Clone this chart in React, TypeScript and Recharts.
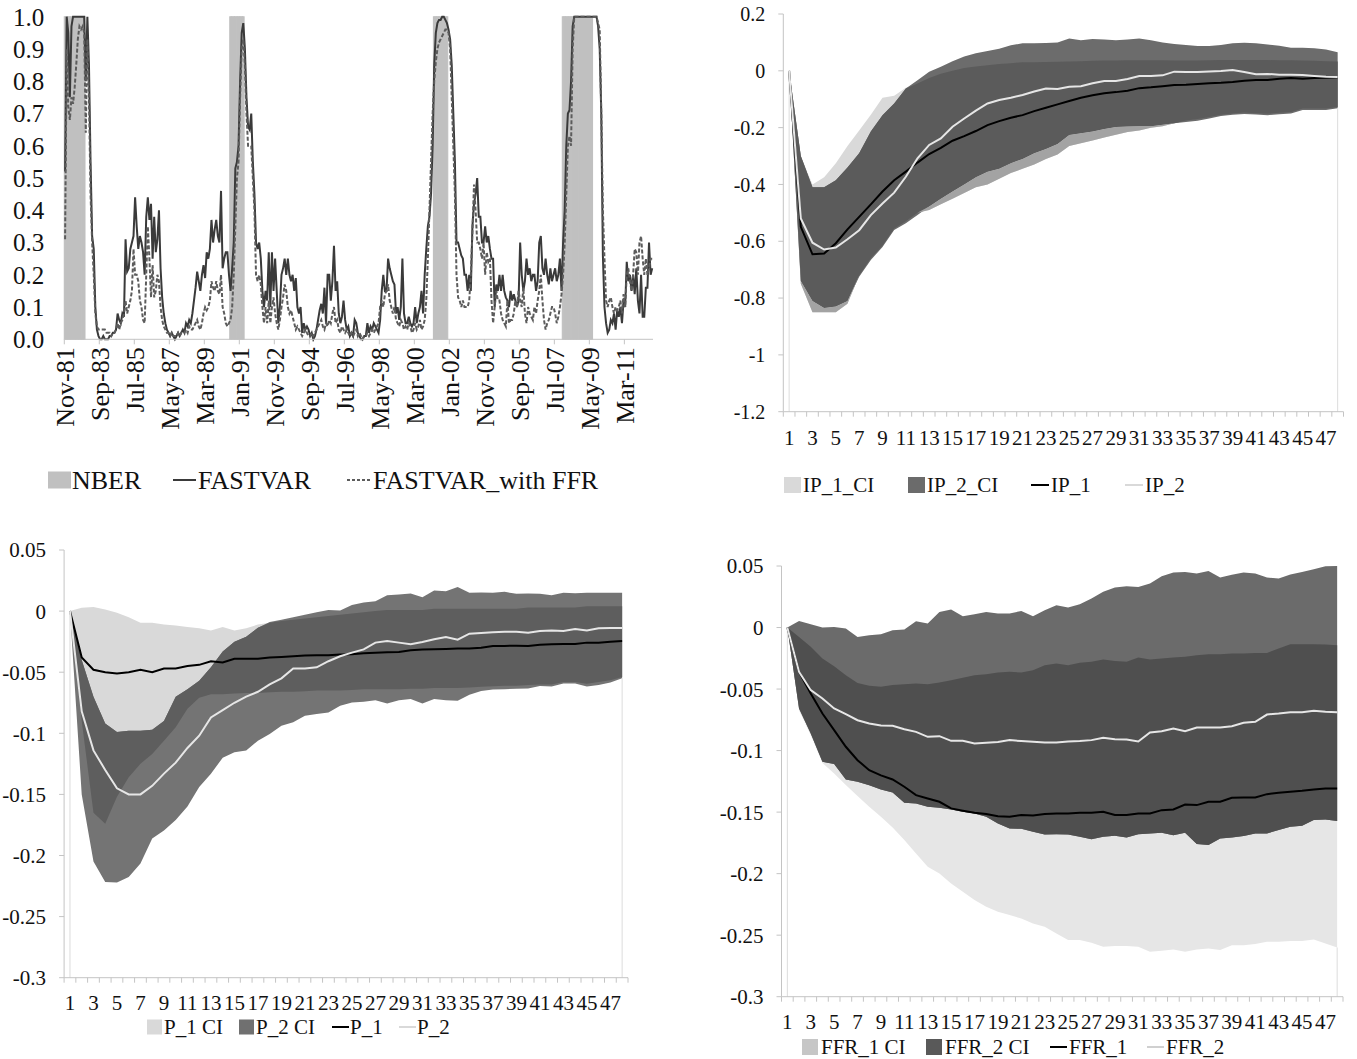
import React from 'react';
import { ComposedChart, Bar, Line, Area, XAxis, YAxis, ReferenceLine } from 'recharts';

const FONT = '"Liberation Serif", "Times New Roman", Times, serif';
const TEXT = '#111111';
const AXIS = '#c4c4c4';

// ---------------- Panel 1: recession probabilities (monthly, Nov-81 .. Aug-12) ----------------
const MONTH_NAMES = ['Jan', 'Feb', 'Mar', 'Apr', 'May', 'Jun', 'Jul', 'Aug', 'Sep', 'Oct', 'Nov', 'Dec'];
const START_YEAR = 1981;
const START_MONTH = 10; // Nov

const FASTVAR = [
  0.52, 1.0, 0.95, 0.75, 0.97, 1.0, 1.0, 1.0, 1.0, 1.0,
  1.0, 1.0, 1.0, 0.8, 1.0, 0.85, 0.55, 0.32, 0.28, 0.1,
  0.03, 0.01, 0.0, 0.0, 0.01, 0.0, 0.0, 0.0, 0.01, 0.01,
  0.02, 0.02, 0.03, 0.08, 0.06, 0.05, 0.08, 0.07, 0.31, 0.21,
  0.22, 0.28, 0.3, 0.32, 0.44, 0.35, 0.28, 0.32, 0.3, 0.27,
  0.2, 0.38, 0.44, 0.37, 0.42, 0.25, 0.38, 0.27, 0.31, 0.4,
  0.22, 0.13, 0.08, 0.05, 0.03, 0.02, 0.01, 0.02, 0.01, 0.0,
  0.01, 0.02, 0.01, 0.02, 0.03, 0.02, 0.05, 0.04, 0.06, 0.05,
  0.08, 0.12, 0.16, 0.21, 0.18, 0.15, 0.2, 0.23, 0.19, 0.27,
  0.25, 0.28, 0.37, 0.3, 0.34, 0.37, 0.32, 0.3, 0.46, 0.22,
  0.25, 0.27, 0.27, 0.2, 0.15, 0.22, 0.3, 0.53, 0.55, 0.6,
  0.8, 0.95, 0.98, 0.9, 0.75, 0.66, 0.65, 0.7, 0.55, 0.45,
  0.3, 0.28, 0.3, 0.25, 0.15, 0.1, 0.15, 0.12, 0.27, 0.1,
  0.27, 0.15, 0.25, 0.15, 0.05, 0.1, 0.2, 0.22, 0.25, 0.2,
  0.25, 0.2, 0.18, 0.2, 0.15, 0.19, 0.1, 0.08, 0.1, 0.02,
  0.05, 0.03, 0.04, 0.03, 0.01, 0.02, 0.0, 0.01, 0.03, 0.06,
  0.09, 0.11, 0.08, 0.16, 0.05, 0.2, 0.2, 0.12, 0.18, 0.29,
  0.15, 0.18, 0.08, 0.05, 0.07, 0.12, 0.06, 0.03, 0.04, 0.01,
  0.02, 0.01, 0.06, 0.05, 0.02, 0.01, 0.0, 0.0, 0.01, 0.01,
  0.05, 0.02, 0.04, 0.03, 0.05, 0.04, 0.03, 0.02, 0.06, 0.15,
  0.2, 0.15, 0.15, 0.25, 0.22, 0.2, 0.18, 0.17, 0.08, 0.1,
  0.06, 0.1, 0.25, 0.08, 0.05, 0.05, 0.07, 0.05, 0.04, 0.05,
  0.1, 0.05, 0.08, 0.1, 0.15, 0.08, 0.2, 0.28, 0.35, 0.38,
  0.45, 0.6, 0.85, 0.95, 0.98, 0.99, 0.99, 1.0, 1.0, 0.99,
  0.98, 0.96, 0.93, 0.85, 0.7, 0.55, 0.3, 0.3, 0.28, 0.26,
  0.25, 0.2, 0.2, 0.15, 0.2, 0.15, 0.35, 0.42, 0.45, 0.5,
  0.38, 0.38, 0.3, 0.3, 0.35, 0.3, 0.32, 0.28, 0.25, 0.25,
  0.1, 0.17, 0.15, 0.2, 0.15, 0.2, 0.15, 0.13, 0.12, 0.1,
  0.15, 0.12, 0.14, 0.12, 0.1, 0.12, 0.3, 0.2, 0.15, 0.18,
  0.25, 0.2, 0.22, 0.18, 0.2, 0.2, 0.15, 0.18, 0.3, 0.32,
  0.22, 0.2, 0.25, 0.2, 0.17, 0.22, 0.18, 0.2, 0.22, 0.18,
  0.2, 0.25, 0.15, 0.3, 0.4, 0.6, 0.7, 0.71, 0.8, 0.97,
  1.0, 1.0, 1.0, 1.0, 1.0, 1.0, 1.0, 1.0, 1.0, 1.0,
  1.0, 1.0, 1.0, 1.0, 1.0, 0.97, 0.9, 0.7, 0.26, 0.1,
  0.05, 0.02, 0.03, 0.06, 0.05, 0.08, 0.03, 0.09, 0.07, 0.1,
  0.05, 0.12, 0.1, 0.24, 0.18, 0.2, 0.15, 0.2, 0.14, 0.22,
  0.12, 0.08, 0.2, 0.07, 0.07, 0.16, 0.16, 0.3, 0.2, 0.22,
];

const FASTVAR_WITH_FFR = [
  0.31, 0.9, 0.72, 0.68, 0.75, 0.73, 0.78, 0.85, 0.93, 0.97,
  0.96, 0.97, 0.95, 0.64, 0.93, 0.75, 0.45, 0.3, 0.2, 0.08,
  0.04, 0.03, 0.03, 0.03, 0.03, 0.03, 0.02, 0.02, 0.02, 0.01,
  0.02, 0.02, 0.03, 0.05, 0.03, 0.05, 0.06, 0.08, 0.12, 0.08,
  0.1, 0.12, 0.15, 0.28, 0.2, 0.2, 0.18, 0.12, 0.1, 0.06,
  0.05, 0.2, 0.35, 0.25, 0.13, 0.23, 0.13, 0.15, 0.2, 0.18,
  0.1, 0.06, 0.04, 0.03, 0.02, 0.02, 0.01, 0.02, 0.01, 0.01,
  0.01, 0.02, 0.01, 0.02, 0.02, 0.02, 0.03, 0.02, 0.04, 0.03,
  0.03, 0.04, 0.05, 0.06, 0.04, 0.03, 0.05, 0.08, 0.1, 0.09,
  0.1, 0.12, 0.18, 0.16, 0.15, 0.18, 0.15, 0.14, 0.2, 0.1,
  0.08, 0.05, 0.04, 0.05, 0.06, 0.1, 0.2, 0.35, 0.5, 0.55,
  0.75, 0.9, 0.93, 0.85, 0.7, 0.6, 0.6, 0.6, 0.5, 0.4,
  0.2, 0.18, 0.2, 0.17, 0.1, 0.05, 0.1, 0.05, 0.12, 0.05,
  0.1, 0.13, 0.08, 0.05, 0.03, 0.06, 0.1, 0.13, 0.17, 0.15,
  0.1, 0.08, 0.09, 0.07, 0.05, 0.03, 0.04, 0.03, 0.02, 0.01,
  0.02, 0.03, 0.02, 0.01, 0.01, 0.02, 0.01, 0.02, 0.03, 0.04,
  0.05, 0.06, 0.04, 0.03, 0.05, 0.04, 0.06, 0.05, 0.08, 0.1,
  0.05, 0.06, 0.03, 0.02, 0.04, 0.03, 0.02, 0.03, 0.02, 0.01,
  0.02, 0.01, 0.02, 0.03, 0.01, 0.02, 0.01, 0.0, 0.01, 0.01,
  0.02, 0.01, 0.02, 0.03, 0.02, 0.03, 0.04, 0.05, 0.1, 0.12,
  0.1, 0.14, 0.15, 0.17, 0.12, 0.1, 0.08, 0.1, 0.06, 0.05,
  0.04, 0.06, 0.05, 0.03, 0.04, 0.03, 0.05, 0.04, 0.02, 0.03,
  0.05, 0.03, 0.04, 0.06, 0.03, 0.04, 0.06, 0.12, 0.25, 0.4,
  0.55, 0.7, 0.8, 0.86, 0.9, 0.92, 0.93, 0.94, 0.95, 0.96,
  0.96, 0.95, 0.9, 0.75, 0.6, 0.45, 0.2, 0.13, 0.12, 0.1,
  0.12, 0.1, 0.1, 0.1, 0.12, 0.2, 0.33, 0.48, 0.4, 0.3,
  0.3, 0.28, 0.25, 0.3, 0.2, 0.27, 0.24, 0.25, 0.12, 0.05,
  0.1, 0.15, 0.12, 0.12, 0.08, 0.06, 0.05, 0.04, 0.12, 0.05,
  0.06, 0.06, 0.08, 0.12, 0.1, 0.15, 0.12, 0.1, 0.16, 0.08,
  0.05, 0.1, 0.08, 0.07, 0.06, 0.1, 0.08, 0.12, 0.15, 0.2,
  0.12, 0.06, 0.03, 0.05, 0.06, 0.08, 0.1, 0.1, 0.08, 0.05,
  0.07, 0.1, 0.14, 0.2, 0.3, 0.45, 0.6, 0.63, 0.6, 0.9,
  1.0, 1.0, 1.0, 1.0, 1.0, 1.0, 1.0, 1.0, 1.0, 1.0,
  1.0, 1.0, 1.0, 1.0, 1.0, 0.98, 0.96, 0.7, 0.4, 0.25,
  0.12, 0.1, 0.12, 0.13, 0.1, 0.08, 0.1, 0.09, 0.1, 0.12,
  0.08, 0.14, 0.1, 0.2, 0.22, 0.18, 0.15, 0.2, 0.28, 0.27,
  0.2, 0.3, 0.32, 0.25, 0.2, 0.25, 0.2, 0.22, 0.25, 0.25,
];

const NBER_PERIODS: [string, string][] = [
  ['Nov-81', 'Nov-82'],
  ['Jul-90', 'Mar-91'],
  ['Mar-01', 'Nov-01'],
  ['Dec-07', 'Jun-09'],
];
const PROB_TICKS = [0, 0.1, 0.2, 0.3, 0.4, 0.5, 0.6, 0.7, 0.8, 0.9, 1];

const monthLabel = (i: number) => {
  const t = START_MONTH + i;
  const y = (START_YEAR + Math.floor(t / 12)) % 100;
  return `${MONTH_NAMES[t % 12]}-${String(y).padStart(2, '0')}`;
};
const MONTH_LABELS = FASTVAR.map((_, i) => monthLabel(i));
const NBER_RANGES = NBER_PERIODS.map(([a, b]) => [MONTH_LABELS.indexOf(a), MONTH_LABELS.indexOf(b)]);
const PROB_ROWS = FASTVAR.map((v, i) => ({
  m: MONTH_LABELS[i],
  nber: NBER_RANGES.some(([a, b]) => i >= a && i <= b) ? 1 : null,
  fastvar: v,
  fastvarFfr: FASTVAR_WITH_FFR[i],
}));

// ---------------- IRF panels (horizons 1..48) ----------------
const HORIZONS = Array.from({ length: 48 }, (_, i) => i + 1);

const IP_1 = [0, -0.549, -0.646, -0.643, -0.607, -0.558, -0.514, -0.47, -0.425, -0.385,
  -0.355, -0.323, -0.293, -0.271, -0.246, -0.23, -0.212, -0.191, -0.177, -0.165,
  -0.156, -0.142, -0.13, -0.118, -0.106, -0.095, -0.086, -0.079, -0.075, -0.07,
  -0.061, -0.058, -0.054, -0.05, -0.049, -0.046, -0.044, -0.042, -0.039, -0.035,
  -0.032, -0.032, -0.028, -0.025, -0.028, -0.025, -0.024, -0.023];
const IP_2 = [0, -0.52, -0.605, -0.629, -0.622, -0.593, -0.561, -0.508, -0.467, -0.429,
  -0.373, -0.308, -0.261, -0.238, -0.197, -0.168, -0.14, -0.115, -0.103, -0.095,
  -0.085, -0.073, -0.062, -0.064, -0.056, -0.054, -0.044, -0.036, -0.036, -0.029,
  -0.018, -0.018, -0.016, -0.003, -0.004, -0.004, -0.002, -0.001, 0.003, -0.004,
  -0.012, -0.011, -0.014, -0.014, -0.015, -0.018, -0.021, -0.022];
const IP_1_CI_LO = [0, -0.75, -0.85, -0.85, -0.85, -0.82, -0.72, -0.66, -0.615, -0.555,
  -0.53, -0.5, -0.49, -0.47, -0.45, -0.43, -0.41, -0.4, -0.38, -0.36,
  -0.345, -0.33, -0.31, -0.295, -0.265, -0.255, -0.245, -0.235, -0.225, -0.215,
  -0.21, -0.2, -0.195, -0.185, -0.175, -0.17, -0.163, -0.155, -0.15, -0.147,
  -0.149, -0.151, -0.148, -0.145, -0.133, -0.133, -0.133, -0.127];
const IP_1_CI_HI = [0, -0.3, -0.4, -0.375, -0.325, -0.265, -0.21, -0.155, -0.095, -0.088,
  -0.06, -0.045, -0.025, -0.01, 0.0, 0.01, 0.015, 0.02, 0.024, 0.027,
  0.03, 0.03, 0.031, 0.032, 0.033, 0.034, 0.035, 0.036, 0.036, 0.037,
  0.037, 0.037, 0.037, 0.036, 0.036, 0.036, 0.037, 0.038, 0.038, 0.038,
  0.038, 0.038, 0.037, 0.037, 0.036, 0.035, 0.034, 0.033];
const IP_2_CI_LO = [0, -0.74, -0.81, -0.835, -0.83, -0.81, -0.725, -0.666, -0.62, -0.56,
  -0.537, -0.508, -0.478, -0.45, -0.425, -0.4, -0.375, -0.355, -0.345, -0.325,
  -0.31, -0.29, -0.275, -0.258, -0.226, -0.22, -0.214, -0.205, -0.198, -0.196,
  -0.195, -0.195, -0.19, -0.185, -0.18, -0.176, -0.168, -0.159, -0.155, -0.152,
  -0.154, -0.156, -0.153, -0.15, -0.138, -0.138, -0.138, -0.132];
const IP_2_CI_HI = [0, -0.3, -0.41, -0.41, -0.385, -0.34, -0.29, -0.214, -0.156, -0.115,
  -0.062, -0.033, -0.003, 0.014, 0.034, 0.05, 0.062, 0.07, 0.078, 0.09,
  0.097, 0.097, 0.098, 0.1, 0.114, 0.108, 0.112, 0.11, 0.108, 0.11,
  0.114, 0.108, 0.1, 0.094, 0.091, 0.087, 0.087, 0.091, 0.097, 0.099,
  0.097, 0.093, 0.088, 0.081, 0.081, 0.079, 0.075, 0.065];

const P_1 = [0, -0.038, -0.048, -0.05, -0.051, -0.05, -0.048, -0.05, -0.047, -0.047,
  -0.045, -0.044, -0.041, -0.042, -0.039, -0.039, -0.039, -0.038, -0.0375, -0.037,
  -0.0364, -0.0362, -0.0362, -0.0356, -0.0353, -0.0345, -0.034, -0.0337, -0.0334, -0.0321,
  -0.0315, -0.0313, -0.031, -0.0307, -0.0307, -0.0299, -0.0285, -0.0285, -0.0283, -0.0285,
  -0.0275, -0.0272, -0.0269, -0.0269, -0.0258, -0.0258, -0.025, -0.0245];
const P_2 = [0, -0.082, -0.114, -0.13, -0.145, -0.15, -0.15, -0.143, -0.133, -0.124,
  -0.112, -0.102, -0.087, -0.081, -0.075, -0.07, -0.066, -0.06, -0.055, -0.047,
  -0.047, -0.046, -0.041, -0.037, -0.034, -0.0313, -0.0258, -0.0245, -0.0258, -0.0272,
  -0.0253, -0.0231, -0.0212, -0.0234, -0.0185, -0.0179, -0.0174, -0.0169, -0.0169, -0.0177,
  -0.0163, -0.0158, -0.0163, -0.0147, -0.0158, -0.0141, -0.0139, -0.0139];
const P_1_CI_LO = [0, -0.09, -0.165, -0.174, -0.152, -0.136, -0.125, -0.117, -0.106, -0.095,
  -0.08, -0.071, -0.068, -0.068, -0.0675, -0.067, -0.067, -0.0665, -0.066, -0.066,
  -0.0655, -0.065, -0.065, -0.065, -0.0645, -0.064, -0.064, -0.064, -0.064, -0.0635,
  -0.0635, -0.063, -0.063, -0.063, -0.0625, -0.062, -0.0615, -0.061, -0.061, -0.0605,
  -0.06, -0.06, -0.058, -0.058, -0.0595, -0.058, -0.0565, -0.054];
const P_1_CI_HI = [0, 0.0027, 0.0033, 0.0014, -0.0014, -0.005, -0.0095, -0.0095, -0.011, -0.0117,
  -0.013, -0.0141, -0.0158, -0.013, -0.0158, -0.0141, -0.011, -0.0095, -0.008, -0.007,
  -0.006, -0.005, -0.004, -0.003, -0.002, -0.001, 0.0, 0.001, 0.001, 0.001,
  0.001, 0.002, 0.002, 0.002, 0.002, 0.002, 0.002, 0.002, 0.002, 0.003,
  0.003, 0.003, 0.003, 0.003, 0.004, 0.004, 0.004, 0.004];
const P_2_CI_LO = [0, -0.15, -0.205, -0.2216, -0.222, -0.2175, -0.2066, -0.186, -0.1795, -0.171,
  -0.16, -0.144, -0.133, -0.12, -0.1155, -0.114, -0.106, -0.1006, -0.0938, -0.091,
  -0.0856, -0.0843, -0.083, -0.0775, -0.0748, -0.0742, -0.0729, -0.0756, -0.0729, -0.072,
  -0.0756, -0.072, -0.0729, -0.0734, -0.0685, -0.0653, -0.0642, -0.0639, -0.0636, -0.0634,
  -0.0612, -0.0617, -0.0593, -0.0593, -0.0617, -0.0604, -0.0585, -0.0549];
const P_2_CI_HI = [0, -0.04, -0.07, -0.092, -0.099, -0.098, -0.098, -0.097, -0.09, -0.07,
  -0.064, -0.057, -0.046, -0.033, -0.025, -0.021, -0.0136, -0.009, -0.007, -0.005,
  -0.003, -0.001, 0.001, 0.0005, 0.005, 0.007, 0.008, 0.013, 0.0136, 0.0144,
  0.0114, 0.0169, 0.0163, 0.0198, 0.015, 0.0152, 0.015, 0.0158, 0.0141, 0.0144,
  0.0141, 0.013, 0.015, 0.0147, 0.015, 0.015, 0.015, 0.015];

const FFR_1 = [0, -0.036, -0.0536, -0.0699, -0.0834, -0.0969, -0.1078, -0.1159, -0.1202, -0.1235,
  -0.1294, -0.1362, -0.1389, -0.1416, -0.147, -0.1489, -0.1506, -0.1516, -0.1533, -0.1538,
  -0.1524, -0.1527, -0.1516, -0.1511, -0.1511, -0.1506, -0.1506, -0.1497, -0.1524, -0.1524,
  -0.1511, -0.1511, -0.1484, -0.1478, -0.1438, -0.1443, -0.1416, -0.1416, -0.1384, -0.1381,
  -0.1381, -0.1354, -0.1343, -0.1335, -0.1327, -0.1316, -0.1308, -0.1308];
const FFR_2 = [0, -0.036, -0.0509, -0.0577, -0.0658, -0.0704, -0.0753, -0.078, -0.0796, -0.0799,
  -0.0826, -0.0848, -0.0888, -0.0883, -0.0921, -0.0921, -0.0942, -0.0937, -0.0931, -0.0915,
  -0.0923, -0.0929, -0.0934, -0.0934, -0.0926, -0.0923, -0.0915, -0.0896, -0.0907, -0.091,
  -0.0926, -0.0853, -0.0842, -0.082, -0.0842, -0.0812, -0.0812, -0.0812, -0.0802, -0.0774,
  -0.0766, -0.0707, -0.0699, -0.0688, -0.0688, -0.0677, -0.0685, -0.0688];
const FFR_1_CI_LO = [0, -0.0672, -0.0875, -0.11, -0.1186, -0.128, -0.137, -0.1457, -0.1538, -0.1625,
  -0.1727, -0.1836, -0.1944, -0.1998, -0.208, -0.2147, -0.2215, -0.2269, -0.231, -0.2337,
  -0.2364, -0.2405, -0.2432, -0.2486, -0.254, -0.254, -0.2562, -0.2594, -0.2589, -0.2589,
  -0.2594, -0.2635, -0.2627, -0.2616, -0.2635, -0.2616, -0.2608, -0.2621, -0.2581, -0.2581,
  -0.2572, -0.2553, -0.2553, -0.2548, -0.2548, -0.2535, -0.2567, -0.26];
const FFR_1_CI_HI = [0, -0.0076, -0.0157, -0.0252, -0.0314, -0.0387, -0.045, -0.0474, -0.0482, -0.0468,
  -0.046, -0.0455, -0.046, -0.0447, -0.0428, -0.0409, -0.0387, -0.0379, -0.0366, -0.036,
  -0.0366, -0.0347, -0.0306, -0.0292, -0.0306, -0.0287, -0.0279, -0.026, -0.0271, -0.0279,
  -0.0244, -0.026, -0.0252, -0.0244, -0.0238, -0.0225, -0.0217, -0.0217, -0.0211, -0.0211,
  -0.0206, -0.0206, -0.0171, -0.0135, -0.0135, -0.0135, -0.0138, -0.0144];
const FFR_2_CI_LO = [0, -0.0658, -0.0861, -0.1091, -0.111, -0.1235, -0.1254, -0.1281, -0.1316, -0.134,
  -0.1424, -0.143, -0.1457, -0.1465, -0.1478, -0.1497, -0.1511, -0.1538, -0.1592, -0.1633,
  -0.1636, -0.166, -0.1682, -0.1679, -0.1682, -0.17, -0.172, -0.17, -0.1692, -0.1706,
  -0.1679, -0.1673, -0.1668, -0.1687, -0.1668, -0.176, -0.1768, -0.1714, -0.1706, -0.1695,
  -0.1673, -0.1673, -0.1646, -0.1619, -0.1611, -0.1565, -0.156, -0.1573];
const FFR_2_CI_HI = [0, 0.0054, 0.0027, 0.0, 0.0005, -0.0008, -0.0076, -0.0062, -0.0054, -0.0022,
  -0.0016, 0.0051, 0.0032, 0.0127, 0.0146, 0.0092, 0.0108, 0.0127, 0.0114, 0.0114,
  0.0135, 0.0092, 0.0141, 0.0181, 0.0162, 0.019, 0.0236, 0.029, 0.0325, 0.0336,
  0.033, 0.0357, 0.0417, 0.0447, 0.0452, 0.0439, 0.046, 0.0406, 0.0428, 0.0447,
  0.0439, 0.0406, 0.0398, 0.0431, 0.0452, 0.0474, 0.0498, 0.05];

const IP_TICKS = [-1.2, -1, -0.8, -0.6, -0.4, -0.2, 0, 0.2];
const SMALL_TICKS = [-0.3, -0.25, -0.2, -0.15, -0.1, -0.05, 0, 0.05];
const X_TICKS = HORIZONS.flatMap((h) => [h - 0.5, h]).concat([48.5]);

const fmt = (v: number) => (Math.abs(v) < 1e-9 ? '0' : String(parseFloat(v.toFixed(2))));

// ---------------- Panel 1 component ----------------
const P1 = { w: 660, h: 460, left: 64.3, right: 7, top: 16.7, bottom: 10.7, xh: 110 };
const P1_AXIS_Y = P1.h - P1.bottom - P1.xh;
const P1_BW = (P1.w - P1.left - P1.right) / FASTVAR.length;

function DateTick(p: any) {
  const x = p.x;
  return (
    <g>
      <line x1={x - P1_BW / 2} x2={x - P1_BW / 2} y1={P1_AXIS_Y} y2={P1_AXIS_Y + 5} stroke={AXIS} />
      <text
        transform={`translate(${x},${P1_AXIS_Y + 8}) rotate(-90)`}
        textAnchor="end"
        dy="0.35em"
        fontFamily={FONT}
        fontSize={26}
        fill={TEXT}
      >
        {p.payload.value}
      </text>
    </g>
  );
}

function ProbChart() {
  return (
    <div style={{ position: 'absolute', left: 0, top: 0 }}>
      <ComposedChart
        width={P1.w}
        height={P1.h}
        data={PROB_ROWS}
        margin={{ top: P1.top, right: P1.right, bottom: P1.bottom, left: 0 }}
        barCategoryGap={0}
        barGap={0}
      >
        <XAxis
          dataKey="m"
          interval={21}
          height={P1.xh}
          tickLine={false}
          axisLine={{ stroke: AXIS }}
          tick={(p: any) => <DateTick {...p} />}
        />
        <YAxis
          domain={[0, 1]}
          ticks={PROB_TICKS}
          interval={0}
          width={P1.left}
          axisLine={false}
          tickLine={false}
          tickSize={0}
          tickMargin={20}
          tickFormatter={(v: number) => v.toFixed(1)}
          tick={{ fontFamily: FONT, fontSize: 25, fill: TEXT }}
        />
        <Bar dataKey="nber" fill="#c0c0c0" stroke="#c0c0c0" strokeWidth={1.1} barSize={P1_BW - 0.01} isAnimationActive={false} />
        <Line dataKey="fastvar" type="linear" stroke="#3a3a3a" strokeWidth={2} dot={false} activeDot={false} isAnimationActive={false} />
        <Line dataKey="fastvarFfr" type="linear" stroke="#5c5c5c" strokeWidth={2} strokeDasharray="4 2" dot={false} activeDot={false} isAnimationActive={false} />
      </ComposedChart>
    </div>
  );
}

// ---------------- IRF panel component ----------------
type IrfProps = {
  left: number; top: number; width: number; height: number;
  margin: { top: number; right: number; bottom: number };
  yWidth: number; xHeight: number; labelDy: number;
  domain: [number, number]; yTicks: number[]; yFont: number; xFont: number;
  lo1: number[]; hi1: number[]; lo2: number[]; hi2: number[]; l1: number[]; l2: number[];
  c1: string; c2: string; cOv: string; cLow1?: string; line2Color: string;
};

function IrfPanel(props: IrfProps) {
  const { left, top, width, height, margin, yWidth, xHeight, labelDy, domain, yTicks, yFont, xFont,
    lo1, hi1, lo2, hi2, l1, l2, c1, c2, cOv, cLow1, line2Color } = props;
  const axisY = height - margin.bottom - xHeight;
  const rows = HORIZONS.map((h, i) => {
    const ovLo = Math.max(lo1[i], lo2[i]);
    const ovHi = Math.min(hi1[i], hi2[i]);
    return {
      h,
      ci1: [lo1[i], hi1[i]],
      ci2: [lo2[i], hi2[i]],
      ov: ovLo <= ovHi ? [ovLo, ovHi] : [ovHi, ovHi],
      low1: [lo1[i], Math.max(lo1[i], lo2[i])],
      l1: l1[i],
      l2: l2[i],
    };
  });
  const lastLow = Math.min(lo1[47], lo2[47]);
  const tick = (p: any) => {
    const v = Number(p.payload.value);
    if (Math.abs(v % 1) > 0.25) {
      return <line x1={p.x} x2={p.x} y1={axisY} y2={axisY + 5} stroke={AXIS} />;
    }
    if (v % 2 === 1) {
      return (
        <text x={p.x} y={axisY + labelDy} textAnchor="middle" dominantBaseline="central" fontFamily={FONT} fontSize={xFont} fill={TEXT}>
          {v}
        </text>
      );
    }
    return <g />;
  };
  return (
    <div style={{ position: 'absolute', left, top }}>
      <ComposedChart width={width} height={height} data={rows} margin={{ top: margin.top, right: margin.right, bottom: margin.bottom, left: 0 }}>
        <XAxis
          type="number"
          dataKey="h"
          domain={[0.5, 48.5]}
          ticks={X_TICKS}
          interval={0}
          height={xHeight}
          tickLine={false}
          axisLine={{ stroke: AXIS }}
          tick={tick}
          allowDataOverflow
        />
        <YAxis
          type="number"
          domain={domain}
          ticks={yTicks}
          interval={0}
          width={yWidth}
          allowDataOverflow
          axisLine={{ stroke: AXIS }}
          tickLine={{ stroke: AXIS }}
          tickSize={5}
          tickMargin={13}
          tickFormatter={fmt}
          tick={{ fontFamily: FONT, fontSize: yFont, fill: TEXT }}
        />
        <Area dataKey="ci1" type="linear" stroke="none" fill={c1} fillOpacity={1} dot={false} activeDot={false} isAnimationActive={false} />
        <Area dataKey="ci2" type="linear" stroke="none" fill={c2} fillOpacity={1} dot={false} activeDot={false} isAnimationActive={false} />
        <Area dataKey="ov" type="linear" stroke="none" fill={cOv} fillOpacity={1} dot={false} activeDot={false} isAnimationActive={false} legendType="none" />
        {cLow1 ? (
          <Area dataKey="low1" type="linear" stroke="none" fill={cLow1} fillOpacity={1} dot={false} activeDot={false} isAnimationActive={false} legendType="none" />
        ) : null}
        <ReferenceLine segment={[{ x: 1, y: domain[0] }, { x: 1, y: 0 }]} stroke="#dcdcdc" />
        <ReferenceLine segment={[{ x: 48, y: domain[0] }, { x: 48, y: lastLow }]} stroke="#dcdcdc" />
        <Line dataKey="l1" type="linear" stroke="#000" strokeWidth={2} dot={false} activeDot={false} isAnimationActive={false} />
        <Line dataKey="l2" type="linear" stroke={line2Color} strokeWidth={2} dot={false} activeDot={false} isAnimationActive={false} />
      </ComposedChart>
    </div>
  );
}

// ---------------- Legends ----------------
type LegendItem = { kind: 'box' | 'line' | 'dash'; color: string; x: number; w: number; tx: number; label: string };
type LegendSpec = { cy: number; size: number; box: number; items: LegendItem[] };

const LEGENDS: LegendSpec[] = [
  {
    cy: 480, size: 26, box: 17,
    items: [
      { kind: 'box', color: '#c0c0c0', x: 48, w: 23, tx: 72, label: 'NBER' },
      { kind: 'line', color: '#3a3a3a', x: 173, w: 23, tx: 198, label: 'FASTVAR' },
      { kind: 'dash', color: '#5c5c5c', x: 347, w: 25, tx: 373, label: 'FASTVAR_with FFR' },
    ],
  },
  {
    cy: 485, size: 21, box: 16,
    items: [
      { kind: 'box', color: '#d9d9d9', x: 784, w: 17, tx: 803, label: 'IP_1_CI' },
      { kind: 'box', color: '#6b6b6b', x: 908, w: 17, tx: 927, label: 'IP_2_CI' },
      { kind: 'line', color: '#000000', x: 1031, w: 18, tx: 1051, label: 'IP_1' },
      { kind: 'line', color: '#d9d9d9', x: 1125, w: 18, tx: 1145, label: 'IP_2' },
    ],
  },
  {
    cy: 1027, size: 21, box: 15,
    items: [
      { kind: 'box', color: '#d9d9d9', x: 147, w: 15, tx: 164, label: 'P_1 CI' },
      { kind: 'box', color: '#707070', x: 239, w: 15, tx: 256, label: 'P_2 CI' },
      { kind: 'line', color: '#000000', x: 332, w: 17, tx: 350, label: 'P_1' },
      { kind: 'line', color: '#d9d9d9', x: 399, w: 17, tx: 417, label: 'P_2' },
    ],
  },
  {
    cy: 1047, size: 21, box: 16,
    items: [
      { kind: 'box', color: '#c6c6c6', x: 802, w: 16, tx: 821, label: 'FFR_1 CI' },
      { kind: 'box', color: '#595959', x: 926, w: 16, tx: 945, label: 'FFR_2 CI' },
      { kind: 'line', color: '#000000', x: 1050, w: 17, tx: 1069, label: 'FFR_1' },
      { kind: 'line', color: '#d0d0d0', x: 1147, w: 17, tx: 1166, label: 'FFR_2' },
    ],
  },
];

function Legends() {
  return (
    <svg width={1357} height={1059} style={{ position: 'absolute', left: 0, top: 0, pointerEvents: 'none' }}>
      {LEGENDS.map((lg, li) => (
        <g key={li}>
          {lg.items.map((it, ii) => (
            <g key={ii}>
              {it.kind === 'box' ? (
                <rect x={it.x} y={lg.cy - lg.box / 2} width={it.w} height={lg.box} fill={it.color} />
              ) : (
                <line
                  x1={it.x}
                  x2={it.x + it.w}
                  y1={lg.cy}
                  y2={lg.cy}
                  stroke={it.color}
                  strokeWidth={2}
                  strokeDasharray={it.kind === 'dash' ? '3 2' : undefined}
                />
              )}
              <text x={it.tx} y={lg.cy} dominantBaseline="central" fontFamily={FONT} fontSize={lg.size} fill={TEXT}>
                {it.label}
              </text>
            </g>
          ))}
        </g>
      ))}
    </svg>
  );
}

export default function App() {
  return (
    <div style={{ position: 'absolute', left: 0, top: 0, width: 1357, height: 1059, background: '#ffffff', overflow: 'hidden' }}>
      <ProbChart />
      <IrfPanel
        left={700} top={0} width={657} height={470}
        margin={{ top: 14, right: 13.5, bottom: 18.3 }}
        yWidth={83.3} xHeight={40} labelDy={26}
        domain={[-1.2, 0.2]} yTicks={IP_TICKS} yFont={20} xFont={21}
        lo1={IP_1_CI_LO} hi1={IP_1_CI_HI} lo2={IP_2_CI_LO} hi2={IP_2_CI_HI} l1={IP_1} l2={IP_2}
        c1="#d9d9d9" c2="#6c6c6c" cOv="#5b5b5b" cLow1="#a3a3a3" line2Color="#e6e6e6"
      />
      <IrfPanel
        left={0} top={520} width={660} height={539}
        margin={{ top: 30, right: 32, bottom: 51.3 }}
        yWidth={64.1} xHeight={30} labelDy={25}
        domain={[-0.3, 0.05]} yTicks={SMALL_TICKS} yFont={21} xFont={21}
        lo1={P_1_CI_LO} hi1={P_1_CI_HI} lo2={P_2_CI_LO} hi2={P_2_CI_HI} l1={P_1} l2={P_2}
        c1="#d9d9d9" c2="#747474" cOv="#5e5e5e" line2Color="#e6e6e6"
      />
      <IrfPanel
        left={700} top={520} width={657} height={539}
        margin={{ top: 46, right: 14, bottom: 32.3 }}
        yWidth={81.5} xHeight={30} labelDy={25}
        domain={[-0.3, 0.05]} yTicks={SMALL_TICKS} yFont={21} xFont={21}
        lo1={FFR_1_CI_LO} hi1={FFR_1_CI_HI} lo2={FFR_2_CI_LO} hi2={FFR_2_CI_HI} l1={FFR_1} l2={FFR_2}
        c1="#e6e6e6" c2="#6b6b6b" cOv="#4f4f4f" line2Color="#e6e6e6"
      />
      <Legends />
    </div>
  );
}
